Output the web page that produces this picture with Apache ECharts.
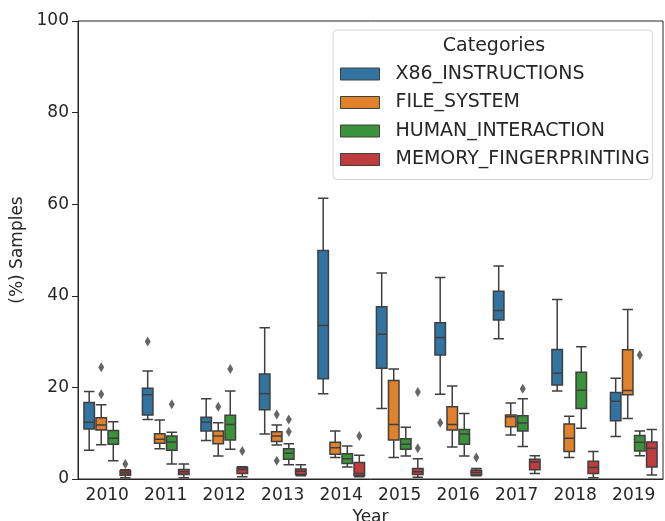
<!DOCTYPE html>
<html>
<head>
<meta charset="utf-8">
<script src="https://cdn.jsdelivr.net/npm/echarts@6/dist/echarts.min.js"></script>
<style>
html,body{margin:0;padding:0;background:#fff;}
#chart{width:665px;height:521px;}
</style>
</head>
<body>
<div id="chart"></div>
<script>
const years = ['2010','2011','2012','2013','2014','2015','2016','2017','2018','2019'];
const yTicks = [0, 20, 40, 60, 80, 100];
const categoryNames = ['X86_INSTRUCTIONS','FILE_SYSTEM','HUMAN_INTERACTION','MEMORY_FINGERPRINTING'];
const categoryColors = ['#3274a1','#e1812c','#3a923a','#c03d3e'];

// [lower whisker, Q1, median, Q3, upper whisker] per year
const x86Stats = [
  [6.3, 10.9, 12.4, 16.7, 19.1],
  [13.0, 14.0, 18.4, 19.8, 23.6],
  [8.4, 10.5, 12.4, 13.5, 17.5],
  [9.8, 15.1, 18.6, 22.9, 33.0],
  [18.6, 21.9, 33.5, 49.9, 61.3],
  [15.4, 24.2, 31.6, 37.6, 45.0],
  [18.5, 27.1, 30.9, 34.1, 44.0],
  [30.6, 34.7, 36.8, 41.0, 46.5],
  [19.2, 20.5, 23.1, 28.3, 39.2],
  [9.3, 12.7, 17.0, 18.9, 22.0]
];
const fileStats = [
  [7.5, 10.7, 11.8, 13.4, 16.2],
  [6.6, 7.8, 8.7, 9.9, 12.9],
  [5.0, 7.7, 9.4, 10.5, 12.3],
  [7.4, 8.2, 9.4, 10.3, 11.8],
  [4.7, 5.4, 6.8, 8.0, 10.5],
  [4.7, 8.5, 11.9, 21.5, 24.0],
  [7.0, 10.7, 11.9, 15.8, 20.3],
  [9.6, 11.4, 13.6, 14.0, 16.6],
  [4.7, 6.0, 8.9, 12.0, 13.7],
  [13.2, 18.4, 19.3, 28.2, 37.0]
];
const humanStats = [
  [4.0, 7.6, 8.9, 10.6, 12.5],
  [3.3, 6.3, 8.1, 9.4, 10.2],
  [6.5, 8.5, 11.9, 13.9, 19.2],
  [3.1, 4.3, 5.6, 6.6, 7.7],
  [2.6, 3.4, 4.4, 5.5, 7.2],
  [5.0, 6.5, 7.6, 8.8, 11.3],
  [5.0, 7.6, 9.8, 10.8, 14.3],
  [7.1, 10.5, 12.2, 13.8, 17.5],
  [11.1, 15.4, 19.4, 23.3, 28.9],
  [5.1, 6.1, 8.0, 9.5, 10.5]
];
const memoryStats = [
  [0.3, 0.8, 1.3, 1.8, 2.0],
  [0.3, 1.0, 1.6, 2.1, 3.3],
  [0.5, 1.2, 2.1, 2.5, 2.7],
  [0.7, 1.0, 1.7, 2.2, 3.1],
  [0.5, 0.7, 1.2, 3.6, 5.2],
  [0.4, 1.0, 1.6, 2.3, 4.4],
  [0.7, 0.9, 1.4, 1.9, 2.3],
  [1.2, 2.0, 3.7, 4.3, 5.1],
  [0.3, 1.2, 2.5, 3.9, 6.0],
  [0.9, 2.6, 6.7, 8.1, 10.8]
];

// outliers: [year, value]
const x86Outliers = [['2011', 30.0], ['2016', 12.3]];
const fileOutliers = [['2010', 18.5], ['2010', 24.4], ['2012', 15.8], ['2013', 14.1], ['2013', 4.0]];
const humanOutliers = [['2011', 16.3], ['2012', 24.0], ['2013', 13.0], ['2013', 10.3], ['2017', 19.7], ['2019', 27.1]];
const memoryOutliers = [['2010', 3.3], ['2012', 6.1], ['2014', 9.4], ['2015', 6.7], ['2015', 19.0], ['2016', 4.7]];

const allStats = [x86Stats, fileStats, humanStats, memoryStats];
const allOutliers = [x86Outliers, fileOutliers, humanOutliers, memoryOutliers];

const W = 665, H = 521;
const gridLeft = 78, gridRight = 2, gridTop = 21, gridBottom = 42;
const edge = '#3f3f3f';
const ink = '#262626';
const font = 'DejaVu Sans';

// reproduce ECharts boxplot multi-series offsets (in category units)
const bandW = (W - gridLeft - gridRight) / years.length;
const n = categoryNames.length;
const avail = bandW * 0.8 - 2;
const gap = avail / n * 0.3;
const bw = (avail - gap * (n - 1)) / n;
const offsets = [];
let base = bw / 2 - avail / 2;
for (let k = 0; k < n; k++) { offsets.push(base / bandW); base += gap + bw; }

const series = [];
categoryNames.forEach((name, k) => {
  series.push({
    name: name,
    type: 'boxplot',
    xAxisIndex: 0,
    boxWidth: [10.5, 10.5],
    data: allStats[k],
    itemStyle: { color: categoryColors[k], borderColor: edge, borderWidth: 1.5 },
    emphasis: { disabled: true }
  });
});
categoryNames.forEach((name, k) => {
  series.push({
    name: name + ' outliers',
    type: 'scatter',
    xAxisIndex: 1,
    symbol: 'diamond',
    symbolSize: [6, 10],
    itemStyle: { color: edge },
    emphasis: { disabled: true },
    data: allOutliers[k].map(o => [years.indexOf(o[0]) + offsets[k], o[1]])
  });
});

const chart = echarts.init(document.getElementById('chart'), null, { renderer: 'canvas' });
chart.setOption({
  backgroundColor: '#fff',
  animation: false,
  textStyle: { fontFamily: font },
  grid: { left: gridLeft, right: gridRight, top: gridTop, bottom: gridBottom, containLabel: false, outerBoundsMode: 'none', show: true, borderColor: ink, borderWidth: 1, backgroundColor: 'transparent' },
  legend: {
    data: categoryNames.map((name, k) => ({
      name: name,
      icon: 'rect',
      itemStyle: { color: categoryColors[k], borderColor: edge, borderWidth: 1 }
    })),
    orient: 'vertical',
    left: 333,
    top: 30,
    padding: [33, 3, 9, 7],
    backgroundColor: '#fff',
    borderColor: '#d6d6d6',
    borderWidth: 1,
    borderRadius: 4,
    itemWidth: 39,
    itemHeight: 12,
    itemGap: 6.5,
    selectedMode: false,
    textStyle: { fontSize: 19, color: ink, fontFamily: font, lineHeight: 22, padding: [0, 0, 0, 11] },
    z: 10
  },
  graphic: [{
    type: 'text', z: 100, zlevel: 0,
    style: { text: 'Categories', x: 494, y: 46, align: 'center', verticalAlign: 'middle', fontSize: 19, fontFamily: font, fill: ink }
  }],
  xAxis: [{
    type: 'category',
    data: years,
    name: 'Year',
    nameLocation: 'middle',
    nameGap: 29,
    nameTextStyle: { fontSize: 17, color: ink, fontFamily: font },
    axisLine: { onZero: false, lineStyle: { color: ink, width: 1 } },
    axisTick: { alignWithLabel: true, length: 6, lineStyle: { color: ink } },
    axisLabel: { fontSize: 17, color: ink, margin: 8, fontFamily: font },
    splitLine: { show: false }
  }, {
    type: 'value',
    min: -0.5,
    max: years.length - 0.5,
    show: false
  }],
  yAxis: {
    type: 'value',
    min: yTicks[0],
    max: yTicks[yTicks.length - 1],
    interval: yTicks[1] - yTicks[0],
    name: '(%) Samples',
    nameLocation: 'middle',
    nameGap: 47,
    nameTextStyle: { fontSize: 17, color: ink, fontFamily: font },
    axisLine: { show: true, onZero: false, lineStyle: { color: ink, width: 1 } },
    axisTick: { show: true, length: 6, lineStyle: { color: ink } },
    axisLabel: { fontSize: 17, color: ink, margin: 9, fontFamily: font },
    splitLine: { show: false }
  },
  series: series
});
</script>
</body>
</html>
